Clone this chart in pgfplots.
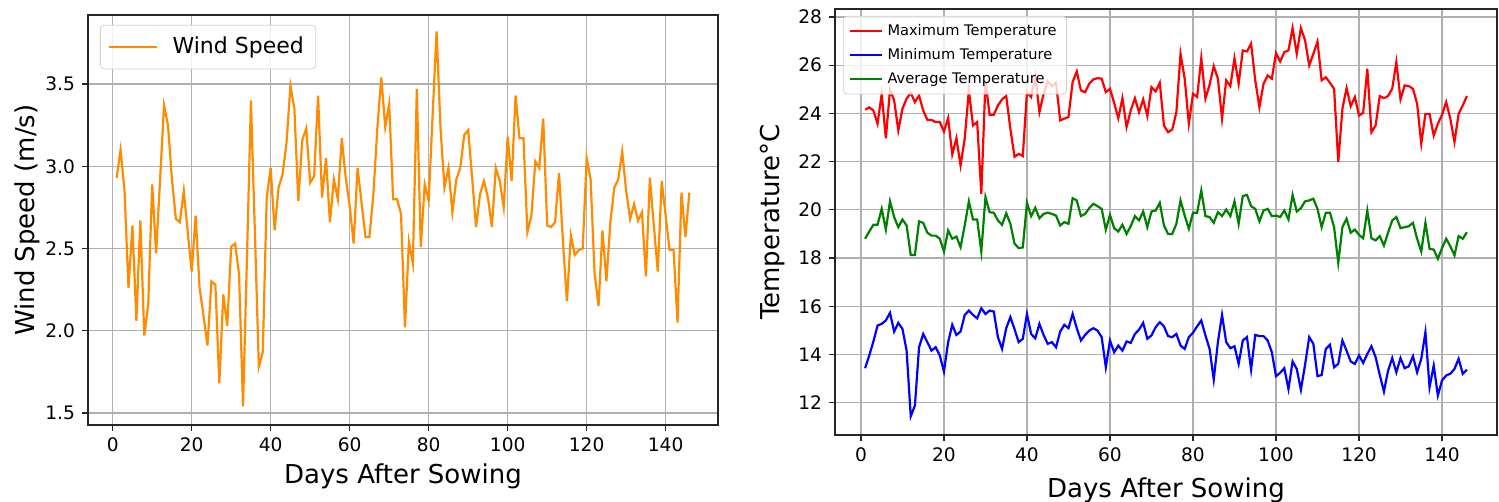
\documentclass[border=0pt]{standalone}
\usepackage{fontspec}
\setmainfont{DejaVu Sans}
\usepackage{pgfplots}
\usepackage{pgfplotstable}
\pgfplotsset{compat=1.18}
\definecolor{gridgray}{HTML}{B0B0B0}
\definecolor{windorange}{HTML}{FF8C00}
\definecolor{avggreen}{HTML}{008000}

% day, wind speed (m/s)
\pgfplotstableread{
day wind
1 2.93
2 3.10
3 2.85
4 2.26
5 2.64
6 2.06
7 2.67
8 1.97
9 2.16
10 2.89
11 2.47
12 2.92
13 3.37
14 3.25
15 2.92
16 2.68
17 2.66
18 2.85
19 2.60
20 2.36
21 2.70
22 2.26
23 2.09
24 1.91
25 2.30
26 2.28
27 1.68
28 2.22
29 2.03
30 2.51
31 2.53
32 2.34
33 1.54
34 2.45
35 3.40
36 2.60
37 1.78
38 1.87
39 2.81
40 2.99
41 2.61
42 2.87
43 2.95
44 3.14
45 3.49
46 3.35
47 2.79
48 3.16
49 3.23
50 2.90
51 2.94
52 3.43
53 2.81
54 3.05
55 2.66
56 2.92
57 2.80
58 3.17
59 2.93
60 2.76
61 2.53
62 2.99
63 2.78
64 2.57
65 2.57
66 2.83
67 3.23
68 3.54
69 3.24
70 3.38
71 2.80
72 2.80
73 2.71
74 2.02
75 2.54
76 2.41
77 3.47
78 2.51
79 2.89
80 2.79
81 3.31
82 3.82
83 3.23
84 2.87
85 2.99
86 2.72
87 2.92
88 2.99
89 3.19
90 3.22
91 2.93
92 2.63
93 2.83
94 2.91
95 2.81
96 2.63
97 2.99
98 2.91
99 2.75
100 3.18
101 2.91
102 3.43
103 3.17
104 3.17
105 2.60
106 2.70
107 3.03
108 2.99
109 3.29
110 2.64
111 2.63
112 2.66
113 2.96
114 2.54
115 2.18
116 2.58
117 2.46
118 2.49
119 2.50
120 3.05
121 2.92
122 2.35
123 2.15
124 2.61
125 2.30
126 2.66
127 2.87
128 2.92
129 3.09
130 2.85
131 2.68
132 2.77
133 2.67
134 2.72
135 2.33
136 2.93
137 2.64
138 2.36
139 2.91
140 2.70
141 2.49
142 2.49
143 2.05
144 2.84
145 2.57
146 2.84
}\windtable

% day, max, min, average temperature (deg C)
\pgfplotstableread{
day tmax tmin tavg
1 24.15 13.43 18.80
2 24.25 13.96 19.10
3 24.12 14.54 19.38
4 23.57 15.20 19.38
5 24.81 15.27 20.04
6 22.97 15.41 19.18
7 24.98 15.73 20.35
8 24.54 14.95 19.70
9 23.29 15.31 19.28
10 24.19 15.06 19.60
11 24.61 14.16 19.35
12 24.85 11.44 18.13
13 24.47 11.88 18.13
14 24.74 14.30 19.52
15 24.12 14.85 19.46
16 23.73 14.51 19.05
17 23.73 14.16 18.93
18 23.64 14.30 18.93
19 23.64 13.96 18.80
20 23.25 13.29 18.27
21 23.80 14.51 19.14
22 22.30 15.23 18.80
23 22.97 14.81 18.89
24 21.84 14.95 18.45
25 22.95 15.64 19.35
26 24.95 15.82 20.35
27 23.50 15.64 19.60
28 23.64 15.50 19.60
29 20.66 15.92 18.27
30 25.35 15.68 20.53
31 23.94 15.82 19.90
32 23.94 15.78 19.88
33 24.33 14.72 19.56
34 24.58 14.23 19.38
35 24.72 15.09 19.86
36 23.36 15.55 19.42
37 22.20 15.05 18.60
38 22.32 14.51 18.41
39 22.23 14.65 18.44
40 24.88 15.68 20.29
41 24.68 14.85 19.74
42 25.55 14.67 20.08
43 24.05 15.27 19.65
44 24.81 14.81 19.83
45 25.33 14.44 19.88
46 25.13 14.51 19.83
47 25.27 14.30 19.76
48 23.71 14.95 19.35
49 23.78 15.23 19.49
50 23.85 15.09 19.42
51 25.30 15.68 20.48
52 25.74 15.09 20.39
53 24.95 14.58 19.74
54 24.88 14.81 19.83
55 25.23 14.99 20.07
56 25.41 15.09 20.25
57 25.46 14.99 20.15
58 25.44 14.72 20.04
59 24.88 13.47 19.18
60 25.02 14.58 19.79
61 24.44 14.09 19.24
62 23.80 14.37 19.10
63 24.63 14.16 19.38
64 23.43 14.54 19.00
65 24.12 14.48 19.32
66 24.63 14.85 19.74
67 24.05 15.03 19.56
68 24.58 15.31 19.93
69 23.89 14.65 19.28
70 25.09 14.79 19.93
71 24.91 15.13 19.97
72 25.27 15.34 20.29
73 23.50 15.17 19.35
74 23.22 14.76 19.00
75 23.33 14.72 19.00
76 24.05 14.85 19.42
77 26.47 14.37 20.39
78 25.44 14.23 19.76
79 23.57 14.72 19.21
80 24.81 14.90 19.88
81 24.68 15.17 19.88
82 26.29 15.41 20.80
83 24.61 14.79 19.74
84 25.19 14.23 19.70
85 25.96 12.96 19.46
86 25.44 14.51 19.90
87 23.78 15.64 19.74
88 25.37 14.51 20.01
89 25.13 14.26 19.74
90 26.29 14.34 20.35
91 25.23 13.61 19.42
92 26.61 14.58 20.57
93 26.57 14.72 20.62
94 26.89 13.37 20.15
95 25.37 14.81 20.04
96 24.26 14.76 19.52
97 25.23 14.76 19.97
98 25.57 14.58 20.04
99 25.44 14.09 19.74
100 26.50 13.10 19.76
101 26.15 13.24 19.70
102 26.54 13.43 19.97
103 26.61 12.57 19.60
104 27.54 13.71 20.62
105 26.47 13.40 19.93
106 27.54 12.54 20.07
107 27.03 13.57 20.35
108 25.99 14.72 20.39
109 26.47 14.44 20.46
110 26.98 13.10 20.04
111 25.37 13.15 19.28
112 25.50 14.23 19.88
113 25.27 14.40 19.88
114 25.02 13.47 19.28
115 21.98 13.61 17.80
116 24.19 14.58 19.28
117 25.05 14.16 19.63
118 24.30 13.71 19.05
119 24.68 13.61 19.18
120 23.91 13.96 18.96
121 24.02 13.65 18.82
122 25.85 14.02 19.97
123 23.22 14.34 18.82
124 23.50 13.89 18.73
125 24.72 13.15 18.91
126 24.63 12.46 18.52
127 24.72 13.33 19.05
128 25.02 13.85 19.56
129 26.13 13.26 19.70
130 24.58 13.85 19.24
131 25.16 13.43 19.28
132 25.13 13.51 19.32
133 25.02 13.93 19.46
134 24.40 13.26 18.80
135 22.74 13.82 18.27
136 23.98 14.92 19.46
137 23.98 12.64 18.38
138 23.08 13.54 18.35
139 23.57 12.30 17.97
140 23.94 12.92 18.41
141 24.47 13.13 18.80
142 23.78 13.20 18.49
143 22.81 13.40 18.11
144 23.98 13.82 18.91
145 24.33 13.20 18.80
146 24.72 13.37 19.07
}\temptable

\pgfplotsset{
  mpl/.style={
    scale only axis,
    axis line style={line width=0.8pt, black!85},
    grid=major,
    grid style={gridgray, line width=0.6pt},
    tick align=outside,
    tick pos=left,
    major tick length=3pt,
    tick style={black!85, line width=0.6pt},
    tick label style={font=\fontsize{9.3}{11}\selectfont},
    label style={font=\fontsize{13}{15}\selectfont},
    /pgf/number format/assume math mode=true,
    xmin=-6.25, xmax=153.25,
    xtick={0,20,...,140},
    legend cell align=left,
  },
}

\begin{document}
\begin{tikzpicture}
\useasboundingbox (0,0) rectangle (749.5pt,251pt);

\begin{axis}[mpl,
  at={(44pt,38.5pt)}, anchor=south west,
  width=315pt, height=205pt,
  ymin=1.4265, ymax=3.92,
  ytick={1.5,2.0,...,3.5},
  yticklabel style={/pgf/number format/.cd, fixed, fixed zerofill, precision=1},
  xlabel={Days After Sowing},
  ylabel={Wind Speed (m/s)},
  xlabel style={at={(axis description cs:0.5,-0.125)}, anchor=center},
  ylabel style={at={(axis description cs:-0.097,0.5)}, anchor=center},
  legend style={at={(0.019,0.976)}, anchor=north west, draw=gray!35,
    rounded corners=2pt, fill=white, fill opacity=0.8, text opacity=1,
    font=\fontsize{11}{13}\selectfont, inner xsep=4pt, inner ysep=4pt,
    /tikz/every odd column/.append style={column sep=5pt}},
  legend image code/.code={\draw[#1] (0pt,0pt) -- (24pt,0pt);},
]
\addplot[windorange, line width=1.1pt] table[x=day, y=wind] {\windtable};
\addlegendentry{Wind Speed}
\end{axis}

\begin{axis}[mpl,
  at={(417.5pt,33.5pt)}, anchor=south west,
  width=331pt, height=213pt,
  ymin=10.66, ymax=28.33,
  ytick={12,14,...,28},
  xlabel={Days After Sowing},
  ylabel={Temperature°C},
  xlabel style={at={(axis description cs:0.5,-0.13)}, anchor=center},
  ylabel style={at={(axis description cs:-0.094,0.5)}, anchor=center},
  legend style={at={(0.012,0.984)}, anchor=north west, draw=gray!35,
    rounded corners=2pt, fill=white, fill opacity=0.8, text opacity=1,
    font=\fontsize{7.3}{9}\selectfont, inner xsep=3pt, inner ysep=2pt,
    row sep=1pt},
  legend image code/.code={\draw[#1] (0pt,0pt) -- (16pt,0pt);},
]
\addplot[red, line width=1.1pt] table[x=day, y=tmax] {\temptable};
\addlegendentry{Maximum Temperature}
\addplot[blue, line width=1.1pt] table[x=day, y=tmin] {\temptable};
\addlegendentry{Minimum Temperature}
\addplot[avggreen, line width=1.1pt] table[x=day, y=tavg] {\temptable};
\addlegendentry{Average Temperature}
\end{axis}
\end{tikzpicture}
\end{document}
